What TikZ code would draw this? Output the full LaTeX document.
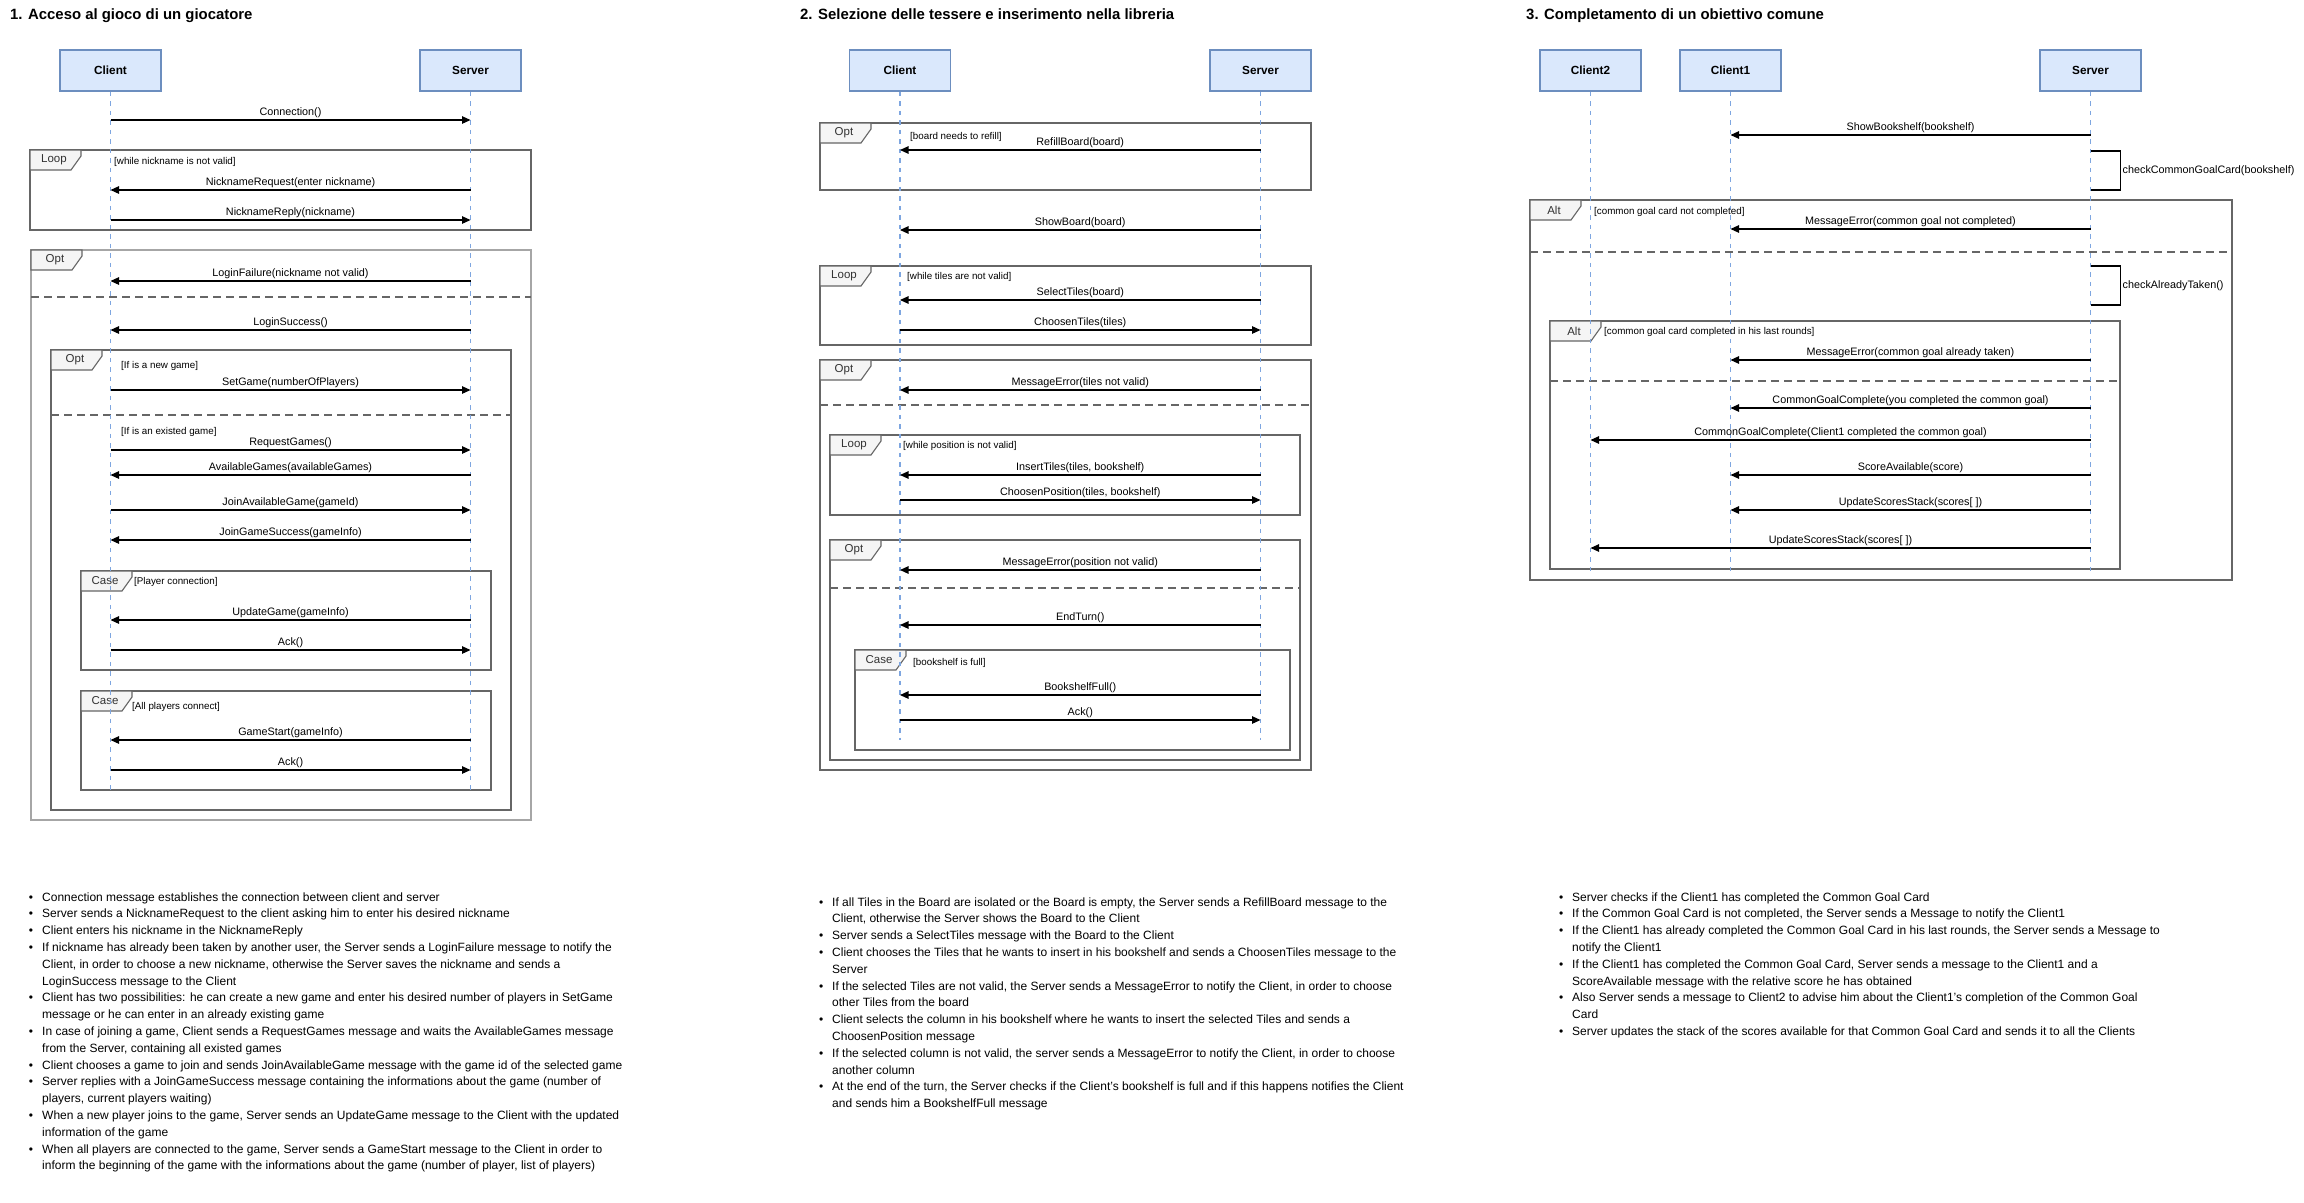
\documentclass[tikz,border=0pt]{standalone}
\usepackage{fontspec}
\setmainfont{Liberation Sans}
\usetikzlibrary{arrows.meta}

\definecolor{actorfill}{HTML}{DAE8FC}
\definecolor{actordraw}{HTML}{6C8EBF}
\definecolor{lifeblue}{HTML}{7EA6E0}
\definecolor{framegray}{HTML}{666666}
\definecolor{outergray}{HTML}{A6A6A6}
\definecolor{tabfill}{HTML}{F5F5F5}

\tikzset{
  actorbox/.style={draw=actordraw, fill=actorfill, line width=1.6pt, minimum width=101pt, minimum height=41pt, inner sep=0pt, font=\fontsize{11.8}{14}\selectfont\bfseries},
  lifeline/.style={draw=lifeblue, line width=1.3pt, dash pattern=on 4.5pt off 5pt},
  msgline/.style={line width=1.1pt, -{Triangle[length=8.5pt,width=7.5pt]}},
  msglabel/.style={anchor=base, yshift=5pt, inner sep=0pt, font=\fontsize{10.8}{13}\selectfont},
  selfline/.style={line width=1.1pt},
  selflabel/.style={anchor=west, inner sep=0pt, font=\fontsize{10.8}{13}\selectfont},
  framebox/.style={draw=framegray, line width=1.1pt},
  outerbox/.style={draw=outergray, line width=1.8pt},
  tabbox/.style={draw=framegray, fill=tabfill, line width=1.1pt},
  tabtext/.style={inner sep=0pt, text=black!80, font=\fontsize{11.5}{13}\selectfont},
  guardtext/.style={anchor=west, inner sep=0pt, font=\fontsize{9.8}{12}\selectfont},
  septline/.style={draw=framegray, line width=1.6pt, dash pattern=on 8pt off 5pt},
  titletext/.style={anchor=base west, inner sep=0pt, font=\fontsize{14.9}{17}\selectfont\bfseries},
  notetext/.style={anchor=base west, inner sep=0pt, font=\fontsize{12}{16.8}\selectfont}
}

\def\msg(#1)(#2)(#3)#4#5{\draw[msgline] (#1 |- 0,#3) -- node[msglabel] (#4) {#5} (#2 |- 0,#3);}
\def\selfmsg(#1)(#2:#3)#4#5{\draw[selfline] (#1 |- 0,#2) -- ++(30,0) |- (#1 |- 0,#3);
  \path (#1 |- 0,#2) ++(32,{(#3-#2)/2}) node[selflabel] (#4) {#5};}
\def\frametab(#1,#2)#3#4{\draw[tabbox] (#1,#2) -- ++(51,0) -- ++(0,6) -- ++(-10,14) -- ++(-41,0) -- cycle;
  \node[tabtext] (#3) at (#1+24,#2+10) {#4};}

\newenvironment{notelist}{\begin{list}{\textbullet}{\setlength\leftmargin{14pt}\setlength\labelwidth{5pt}%
  \setlength\labelsep{9pt}\setlength\itemsep{0pt}\setlength\parsep{0pt}\setlength\topsep{0pt}\setlength\partopsep{0pt}}}{\end{list}}

\begin{document}
\begin{tikzpicture}[x=1pt, y=-1pt]
		%%%%% START %%%%%
		
		\fill[white] (0,0) rectangle (2304,1202);
		\useasboundingbox (0,0) rectangle (2304,1202);
		
		\node[titletext] (tleft) at (10,19) {1. Acceso al gioco di un giocatore};
		\node[titletext] (tmid) at (800,19) {2. Selezione delle tessere e inserimento nella libreria};
		\node[titletext] (tright) at (1526,19) {3. Completamento di un obiettivo comune};
		
		%%%%% 1. ACCESSO %%%%%
		
		\node[actorbox] (cl) at (110.5,70.5) {Client};
		\node[actorbox] (sv) at (470.5,70.5) {Server};
		
		\draw[framebox] (30,150) rectangle (531,230);
		\frametab(30,150){loopa}{Loop}
		\draw[outerbox] (31,250) rectangle (531,820);
		\frametab(31,250){opta}{Opt}
		\draw[septline] (31,297) -- (531,297);
		\draw[framebox] (51,350) rectangle (511,810);
		\frametab(51,350){optb}{Opt}
		\draw[septline] (51,415) -- (511,415);
		\draw[framebox] (81,571) rectangle (491,670);
		\frametab(81,571){casea}{Case}
		\draw[framebox] (81,691) rectangle (491,790);
		\frametab(81,691){caseb}{Case}
		
		\coordinate (cle) at (cl |- 0,790);
		\coordinate (sve) at (sv |- 0,790);
		\draw[lifeline] (cl.south) -- (cle);
		\draw[lifeline] (sv.south) -- (sve);
		
		\node[guardtext] (ga) at (114,162) {[while nickname is not valid]};
		\node[guardtext] (gb) at (121,366) {[If is a new game]};
		\node[guardtext] (gc) at (121,432) {[If is an existed game]};
		\node[guardtext] (gd) at (134,582) {[Player connection]};
		\node[guardtext] (ge) at (132,707) {[All players connect]};
		
		\msg(cl)(sv)(120){mconn}{Connection()}
		\msg(sv)(cl)(190){mnreq}{NicknameRequest(enter nickname)}
		\msg(cl)(sv)(220){mnrep}{NicknameReply(nickname)}
		\msg(sv)(cl)(281){mfail}{LoginFailure(nickname not valid)}
		\msg(sv)(cl)(330){msucc}{LoginSuccess()}
		\msg(cl)(sv)(390){msetg}{SetGame(numberOfPlayers)}
		\msg(cl)(sv)(450){mreqg}{RequestGames()}
		\msg(sv)(cl)(475){mavail}{AvailableGames(availableGames)}
		\msg(cl)(sv)(510){mjoin}{JoinAvailableGame(gameId)}
		\msg(sv)(cl)(540){mjsucc}{JoinGameSuccess(gameInfo)}
		\msg(sv)(cl)(620){mupd}{UpdateGame(gameInfo)}
		\msg(cl)(sv)(650){macka}{Ack()}
		\msg(sv)(cl)(740){mstart}{GameStart(gameInfo)}
		\msg(cl)(sv)(770){mackb}{Ack()}
		
		\node[notetext] (nleft) at (28,901) {\begin{minipage}[t]{720pt}\begin{notelist}
		\item Connection message establishes the connection between client and server
		\item Server sends a NicknameRequest to the client asking him to enter his desired nickname
		\item Client enters his nickname in the NicknameReply
		\item If nickname has already been taken by another user, the Server sends a LoginFailure message to notify the\\
		Client, in order to choose a new nickname, otherwise the Server saves the nickname and sends a\\
		LoginSuccess message to the Client
		\item Client has two possibilities: he can create a new game and enter his desired number of players in SetGame\\
		message or he can enter in an already existing game
		\item In case of joining a game, Client sends a RequestGames message and waits the AvailableGames message\\
		from the Server, containing all existed games
		\item Client chooses a game to join and sends JoinAvailableGame message with the game id of the selected game
		\item Server replies with a JoinGameSuccess message containing the informations about the game (number of\\
		players, current players waiting)
		\item When a new player joins to the game, Server sends an UpdateGame message to the Client with the updated\\
		information of the game
		\item When all players are connected to the game, Server sends a GameStart message to the Client in order to\\
		inform the beginning of the game with the informations about the game (number of player, list of players)
		\end{notelist}\end{minipage}};
		
		%%%%% 2. SELEZIONE %%%%%
		
		\node[actorbox] (cm) at (900,70.5) {Client};
		\node[actorbox] (sm) at (1260.5,70.5) {Server};
		
		\draw[framebox] (820,123) rectangle (1311,190);
		\frametab(820,123){optc}{Opt}
		\draw[framebox] (820,266) rectangle (1311,345);
		\frametab(820,266){loopb}{Loop}
		\draw[framebox] (820,360) rectangle (1311,770);
		\frametab(820,360){optd}{Opt}
		\draw[septline] (820,405) -- (1311,405);
		\draw[framebox] (830,435) rectangle (1300,515);
		\frametab(830,435){loopc}{Loop}
		\draw[framebox] (830,540) rectangle (1300,760);
		\frametab(830,540){opte}{Opt}
		\draw[septline] (830,588) -- (1300,588);
		\draw[framebox] (855,650) rectangle (1290,750);
		\frametab(855,650){casec}{Case}
		
		\coordinate (cme) at (cm |- 0,740);
		\coordinate (sme) at (sm |- 0,740);
		\draw[lifeline] (cm.south) -- (cme);
		\draw[lifeline] (sm.south) -- (sme);
		
		\node[guardtext] (gf) at (910,137) {[board needs to refill]};
		\node[guardtext] (gg) at (907,277) {[while tiles are not valid]};
		\node[guardtext] (gh) at (903,446) {[while position is not valid]};
		\node[guardtext] (gi) at (913,663) {[bookshelf is full]};
		
		\msg(sm)(cm)(150){mrefill}{RefillBoard(board)}
		\msg(sm)(cm)(230){mshow}{ShowBoard(board)}
		\msg(sm)(cm)(300){mselect}{SelectTiles(board)}
		\msg(cm)(sm)(330){mtiles}{ChoosenTiles(tiles)}
		\msg(sm)(cm)(390){merra}{MessageError(tiles not valid)}
		\msg(sm)(cm)(475){minsert}{InsertTiles(tiles, bookshelf)}
		\msg(cm)(sm)(500){mpos}{ChoosenPosition(tiles, bookshelf)}
		\msg(sm)(cm)(570){merrb}{MessageError(position not valid)}
		\msg(sm)(cm)(625){mend}{EndTurn()}
		\msg(sm)(cm)(695){mfull}{BookshelfFull()}
		\msg(cm)(sm)(720){mackc}{Ack()}
		
		\node[notetext] (nmid) at (818,906) {\begin{minipage}[t]{720pt}\begin{notelist}
		\item If all Tiles in the Board are isolated or the Board is empty, the Server sends a RefillBoard message to the\\
		Client, otherwise the Server shows the Board to the Client
		\item Server sends a SelectTiles message with the Board to the Client
		\item Client chooses the Tiles that he wants to insert in his bookshelf and sends a ChoosenTiles message to the\\
		Server
		\item If the selected Tiles are not valid, the Server sends a MessageError to notify the Client, in order to choose\\
		other Tiles from the board
		\item Client selects the column in his bookshelf where he wants to insert the selected Tiles and sends a\\
		ChoosenPosition message
		\item If the selected column is not valid, the server sends a MessageError to notify the Client, in order to choose\\
		another column
		\item At the end of the turn, the Server checks if the Client's bookshelf is full and if this happens notifies the Client\\
		and sends him a BookshelfFull message
		\end{notelist}\end{minipage}};
		
		%%%%% 3. COMPLETAMENTO %%%%%
		
		\node[actorbox] (ctwo) at (1590.5,70.5) {Client2};
		\node[actorbox] (cone) at (1730.5,70.5) {Client1};
		\node[actorbox] (sr) at (2090.5,70.5) {Server};
		
		\draw[framebox] (1530,200) rectangle (2232,580);
		\frametab(1530,200){alta}{Alt}
		\draw[septline] (1530,252) -- (2232,252);
		\draw[framebox] (1550,321) rectangle (2120,569);
		\frametab(1550,321){altb}{Alt}
		\draw[septline] (1550,381) -- (2120,381);
		
		\coordinate (ctwoe) at (ctwo |- 0,575);
		\coordinate (conee) at (cone |- 0,575);
		\coordinate (sre) at (sr |- 0,575);
		\draw[lifeline] (ctwo.south) -- (ctwoe);
		\draw[lifeline] (cone.south) -- (conee);
		\draw[lifeline] (sr.south) -- (sre);
		
		\node[guardtext] (gj) at (1594,212) {[common goal card not completed]};
		\node[guardtext] (gk) at (1604,332) {[common goal card completed in his last rounds]};
		
		\msg(sr)(cone)(135){mshelf}{ShowBookshelf(bookshelf)}
		\selfmsg(sr)(151:190){mcheck}{checkCommonGoalCard(bookshelf)}
		\msg(sr)(cone)(229){merrc}{MessageError(common goal not completed)}
		\selfmsg(sr)(266:305){mtaken}{checkAlreadyTaken()}
		\msg(sr)(cone)(360){merrd}{MessageError(common goal already taken)}
		\msg(sr)(cone)(408){mgoala}{CommonGoalComplete(you completed the common goal)}
		\msg(sr)(ctwo)(440){mgoalb}{CommonGoalComplete(Client1 completed the common goal)}
		\msg(sr)(cone)(475){mscore}{ScoreAvailable(score)}
		\msg(sr)(cone)(510){mstacka}{UpdateScoresStack(scores[ ])}
		\msg(sr)(ctwo)(548){mstackb}{UpdateScoresStack(scores[ ])}
		
		\node[notetext] (nright) at (1558,901) {\begin{minipage}[t]{720pt}\begin{notelist}
		\item Server checks if the Client1 has completed the Common Goal Card
		\item If the Common Goal Card is not completed, the Server sends a Message to notify the Client1
		\item If the Client1 has already completed the Common Goal Card in his last rounds, the Server sends a Message to\\
		notify the Client1
		\item If the Client1 has completed the Common Goal Card, Server sends a message to the Client1 and a\\
		ScoreAvailable message with the relative score he has obtained
		\item Also Server sends a message to Client2 to advise him about the Client1's completion of the Common Goal\\
		Card
		\item Server updates the stack of the scores available for that Common Goal Card and sends it to all the Clients
		\end{notelist}\end{minipage}};
		
		%%%%% END %%%%%
\end{tikzpicture}
\end{document}
